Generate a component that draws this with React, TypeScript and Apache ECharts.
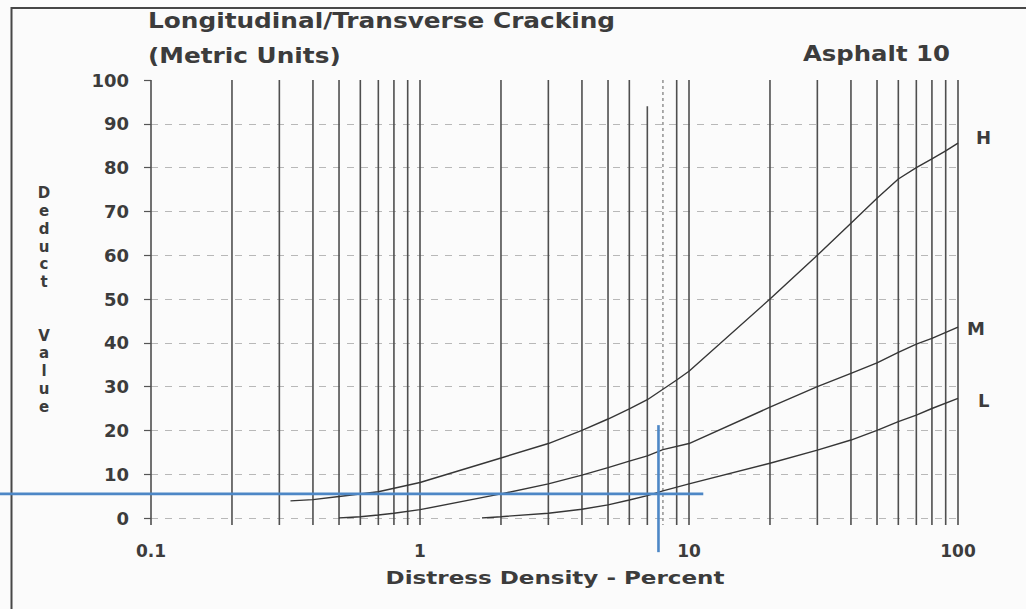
import { useEffect, useRef } from "react";
import * as echarts from "echarts";

// Distress density (percent) and deduct value readings for each severity curve
const densityH = [0.33, 0.4, 0.5, 0.7, 1, 2, 3, 4, 5, 6, 7, 8, 9, 10, 20, 30, 40, 50, 60, 70, 80, 90, 100];
const deductH = [3.9, 4.2, 4.9, 6.0, 8.1, 13.7, 17, 20, 22.6, 24.9, 27, 29.4, 31.5, 33.5, 50, 60, 67.3, 73, 77.4, 80, 82, 83.8, 85.6];

const densityM = [0.5, 0.6, 0.7, 0.8, 1, 2, 3, 4, 5, 6, 7, 8, 10, 20, 30, 40, 50, 60, 70, 80, 100];
const deductM = [0, 0.3, 0.7, 1.1, 1.9, 5.5, 7.8, 9.8, 11.5, 13, 14.2, 15.6, 17, 25.3, 30, 33, 35.4, 37.8, 39.7, 41, 43.6];

const densityL = [1.7, 2, 3, 4, 5, 6, 7, 8, 10, 20, 30, 40, 50, 60, 70, 80, 100];
const deductL = [0, 0.3, 1.1, 2, 3, 4.1, 5.1, 6.2, 7.8, 12.5, 15.5, 17.8, 20, 22, 23.5, 25, 27.3];

// Log-paper rulings (percent) and the odd ones among them
const gridDensities = [
  0.1, 0.2, 0.3, 0.4, 0.5, 0.6, 0.7, 0.8, 0.9,
  1, 2, 3, 4, 5, 6, 7, 8, 9,
  10, 20, 30, 40, 50, 60, 70, 80, 90, 100,
];
const dottedRulings = [8];
const shortRulings: [number, number][] = [[7, 94]];

// Reading guide: density 7.7 % gives a deduct value of about 5.5
const guideDensity = 7.7;
const guideDeduct = 5.5;
const guideHorizontalEnd = 11.3; // density where the horizontal guide stops
const guideVerticalSpan = [21.2, -7.8]; // deduct values spanned by the vertical guide

const xTickLabels = ["0.1", "1", "10", "100"];
const yAxisName = "Deduct Value";

const zip = (xs: number[], ys: number[]) => xs.map((x, i) => [x, ys[i]]);

const TEXT = "#3c3c3c";
const FONT = "DejaVu Sans";
const GUIDE = "#4d87c6";

export default function App() {
  const ref = useRef<HTMLDivElement>(null);

  useEffect(() => {
    if (!ref.current) return;
    const chart = echarts.init(ref.current, undefined, { renderer: "svg" });

    const rulingData = gridDensities.map((d) => {
      const short = shortRulings.find((s) => s[0] === d);
      return [d, short ? short[1] : 100, dottedRulings.includes(d) ? 1 : 0];
    });

    const curve = (name: string, data: number[][], offset: number[]) => ({
      name,
      type: "line",
      data,
      smooth: false,
      showSymbol: false,
      z: 5,
      lineStyle: { color: "#363636", width: 1.4 },
      endLabel: {
        show: true,
        formatter: "{a}",
        distance: 0,
        offset,
        color: TEXT,
        fontFamily: FONT,
        fontWeight: "bold",
        fontSize: 18,
      },
    });

    const yLetters = yAxisName.split("").map((c) => (c === " " ? "\n" : c)).join("\n");

    chart.setOption({
      animation: false,
      backgroundColor: "#fbfbfb",
      grid: { left: 151, right: 68, top: 80, bottom: 91 },
      xAxis: {
        type: "log",
        logBase: 10,
        min: 0.1,
        max: 100,
        axisLine: { show: false },
        axisTick: { show: false },
        splitLine: { show: false },
        minorTick: { show: false },
        axisLabel: {
          margin: 24,
          color: TEXT,
          fontFamily: FONT,
          fontWeight: "bold",
          fontSize: 17,
          formatter: (v: number) => {
            const i = Math.round(Math.log10(v)) + 1;
            return xTickLabels[i] ?? "";
          },
        },
      },
      yAxis: {
        type: "value",
        min: 0,
        max: 100,
        interval: 10,
        axisLine: { show: false },
        axisTick: { show: true, length: 7, lineStyle: { color: "#555", width: 1.2 } },
        splitLine: {
          show: true,
          showMaxLine: false,
          lineStyle: { color: "#b8b8b8", width: 1, type: [7, 7] },
        },
        axisLabel: {
          margin: 22,
          color: TEXT,
          fontFamily: FONT,
          fontWeight: "bold",
          fontSize: 18,
        },
      },
      series: [
        {
          type: "custom",
          data: rulingData,
          encode: { x: 0, y: 1 },
          z: 2,
          silent: true,
          renderItem: (_p: any, api: any) => {
            const d = api.value(0);
            const top = api.coord([d, api.value(1)]);
            const bottom = api.coord([d, -1.6]);
            const dotted = api.value(2) === 1;
            return {
              type: "line",
              shape: { x1: top[0], y1: top[1], x2: bottom[0], y2: bottom[1] },
              style: {
                stroke: dotted ? "#8a8a8a" : "#4f4f4f",
                lineWidth: dotted ? 1.4 : 1.6,
                lineDash: dotted ? [3, 3] : null,
              },
            };
          },
        },
        curve("H", zip(densityH, deductH), [18, -6]),
        curve("M", zip(densityM, deductM), [9, 1]),
        curve("L", zip(densityL, deductL), [20, 2]),
        {
          // Blue reading guide: horizontal from the left page edge, vertical through the density
          type: "custom",
          data: [[guideDensity, guideDeduct]],
          encode: { x: 0, y: 1 },
          z: 10,
          silent: true,
          renderItem: (_p: any, api: any) => {
            const hEnd = api.coord([guideHorizontalEnd, guideDeduct]);
            const vTop = api.coord([guideDensity, guideVerticalSpan[0]]);
            const vBottom = api.coord([guideDensity, guideVerticalSpan[1]]);
            return {
              type: "group",
              children: [
                {
                  type: "line",
                  shape: { x1: 0, y1: hEnd[1], x2: hEnd[0], y2: hEnd[1] },
                  style: { stroke: GUIDE, lineWidth: 2.6 },
                },
                {
                  type: "line",
                  shape: { x1: vTop[0], y1: vTop[1], x2: vBottom[0], y2: vBottom[1] },
                  style: { stroke: GUIDE, lineWidth: 2.6 },
                },
              ],
            };
          },
        },
      ],
      graphic: [
        {
          type: "polyline",
          silent: true,
          shape: { points: [[1026, 8], [11.5, 8], [11.5, 609]] },
          style: { stroke: "#474747", lineWidth: 2, fill: null },
        },
        {
          type: "text",
          x: 148,
          y: 21,
          scaleX: 1.18,
          style: {
            text: "Longitudinal/Transverse Cracking",
            fill: TEXT,
            font: `bold 21px "${FONT}"`,
            align: "left",
            verticalAlign: "middle",
          },
        },
        {
          type: "text",
          x: 148,
          y: 56,
          scaleX: 1.18,
          style: {
            text: "(Metric Units)",
            fill: TEXT,
            font: `bold 21px "${FONT}"`,
            align: "left",
            verticalAlign: "middle",
          },
        },
        {
          type: "text",
          x: 803,
          y: 54,
          scaleX: 1.16,
          style: {
            text: "Asphalt 10",
            fill: TEXT,
            font: `bold 21px "${FONT}"`,
            align: "left",
            verticalAlign: "middle",
          },
        },
        {
          type: "text",
          x: 555,
          y: 578,
          scaleX: 1.28,
          style: {
            text: "Distress Density - Percent",
            fill: TEXT,
            font: `bold 18px "${FONT}"`,
            align: "center",
            verticalAlign: "middle",
          },
        },
        {
          type: "text",
          x: 44,
          y: 300,
          style: {
            text: yLetters,
            fill: TEXT,
            font: `bold 15px "${FONT}"`,
            lineHeight: 17.8,
            align: "center",
            verticalAlign: "middle",
          },
        },
      ],
    });

    return () => chart.dispose();
  }, []);

  return (
    <div
      ref={ref}
      style={{ position: "fixed", left: 0, top: 0, width: 1026, height: 609 }}
    />
  );
}
